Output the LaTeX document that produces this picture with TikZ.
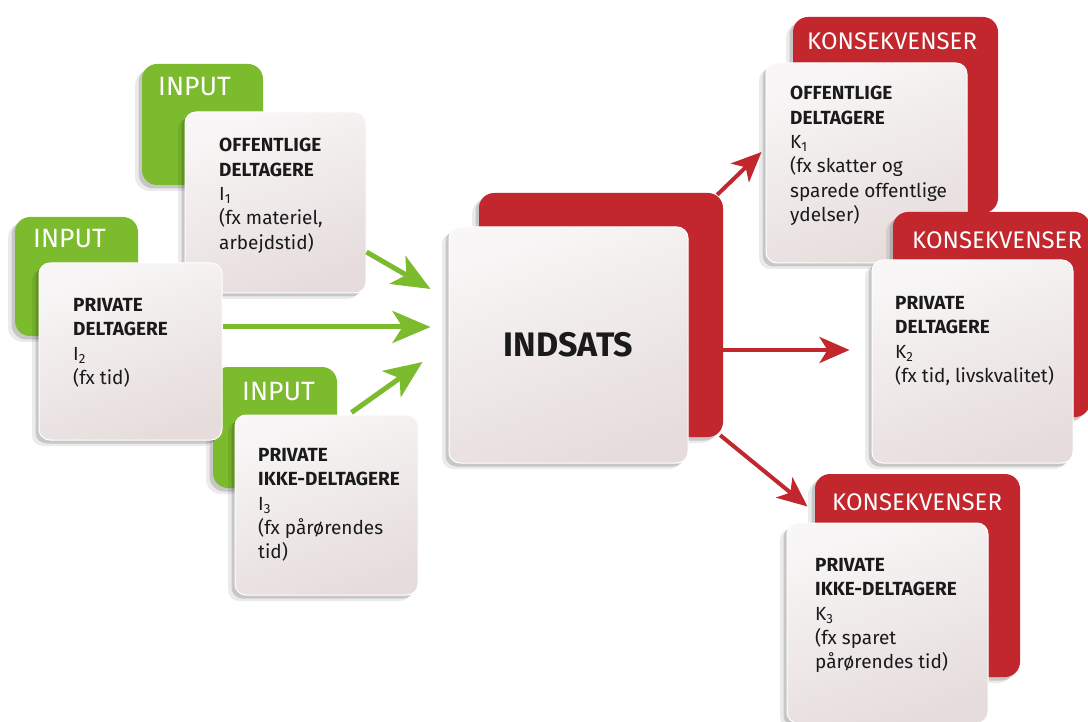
\documentclass[tikz,border=0pt]{standalone}
\usepackage{fontspec}
\setmainfont{Fira Sans}
\usetikzlibrary{arrows.meta,shadows,calc}
\definecolor{ingreen}{HTML}{7CBB2D}
\definecolor{kred}{HTML}{C1272D}
\definecolor{cardA}{HTML}{F8F6F6}
\definecolor{cardB}{HTML}{E6DCDC}
\definecolor{ink}{HTML}{1A1A1A}
\begin{document}
\begin{tikzpicture}[x=1pt,y=-1pt,
  softshadow/.style={
    drop shadow={shadow xshift=-7pt,shadow yshift=-6pt,opacity=.08,fill=black},
    drop shadow={shadow xshift=-3.5pt,shadow yshift=-3.5pt,opacity=.15,fill=black}},
  box/.style={rectangle, rounded corners=15pt, inner sep=0pt},
  greenbox/.style={box, fill=ingreen, softshadow},
  redbox/.style={box, fill=kred, softshadow},
  card/.style={box, rounded corners=11pt, top color=cardA, bottom color=cardB,
    shading angle=20, draw=white, line width=1pt, softshadow},
  inlbl/.style={text=white, font=\fontsize{26.5}{30}\selectfont, inner sep=0pt, anchor=west},
  klbl/.style={text=white, font=\fontsize{24}{28}\selectfont, inner sep=0pt, anchor=west},
  body/.style={text=ink, font=\fontsize{19}{24.4}\selectfont, align=left, anchor=north west, inner sep=0pt},
  garrow/.style={draw=ingreen, line width=5pt, -{Stealth[length=38pt,width=32pt,inset=10pt]}},
  rarrow/.style={draw=kred, line width=4pt, -{Stealth[length=30pt,width=26pt,inset=8pt]}}
]
\useasboundingbox (0,0) rectangle (1088,722);
\fill[white] (0,0) rectangle (1088,722);

% ---- inputs ----
\node[greenbox, minimum width=121pt, minimum height=121pt] (g1) at (202.5,124.5) {};
\node[inlbl] (g1t) at (158,87) {INPUT};
\node[greenbox, minimum width=123pt, minimum height=119pt] (g2) at (76.5,276.5) {};
\node[inlbl] (g2t) at (33,239) {INPUT};
\node[greenbox, minimum width=124pt, minimum height=121pt] (g3) at (275,427.5) {};
\node[inlbl] (g3t) at (242,392) {INPUT};

\node[card, minimum width=181pt, minimum height=181pt] (c1) at (275.5,202.5) {};
\node[body] (c1t) at (219,138) {\textbf{OFFENTLIGE}\\\textbf{DELTAGERE}\\I\textsubscript{1}\\(fx materiel,\\arbejdstid)};
\node[card, minimum width=183pt, minimum height=177pt] (c2) at (130.5,351.5) {};
\node[body] (c2t) at (73,298) {\textbf{PRIVATE}\\\textbf{DELTAGERE}\\I\textsubscript{2}\\(fx tid)};
\node[card, minimum width=183pt, minimum height=180pt] (c3) at (326.5,505) {};
\node[body] (c3t) at (258,448) {\textbf{PRIVATE}\\\textbf{IKKE-DELTAGERE}\\I\textsubscript{3}\\(fx pårørendes\\tid)};

% ---- indsats ----
\node[redbox, minimum width=244pt, minimum height=244pt] (r0) at (601,315) {};
\node[card, minimum width=239pt, minimum height=236pt,
  font=\fontsize{34}{38}\selectfont\bfseries, text=ink] (ind) at (568.5,345) {INDSATS};

% ---- konsekvenser ----
\node[redbox, minimum width=205pt, minimum height=196pt] (k1r) at (895.5,115) {};
\node[klbl] (k1l) at (807,41) {KONSEKVENSER};
\node[card, minimum width=201pt, minimum height=200pt] (k1c) at (866.5,163) {};
\node[body] (k1t) at (790,86) {\textbf{OFFENTLIGE}\\\textbf{DELTAGERE}\\K\textsubscript{1}\\(fx skatter og\\sparede offentlige\\ydelser)};

\node[redbox, minimum width=197pt, minimum height=205pt] (k2r) at (991.5,314.5) {};
\node[klbl] (k2l) at (912,240) {KONSEKVENSER};
\node[card, minimum width=201pt, minimum height=203pt] (k2c) at (972.5,361.5) {};
\node[body] (k2t) at (895,296) {\textbf{PRIVATE}\\\textbf{DELTAGERE}\\K\textsubscript{2}\\(fx tid, livskvalitet)};

\node[redbox, minimum width=205pt, minimum height=203pt] (k3r) at (917.5,575.5) {};
\node[klbl] (k3l) at (832,502) {KONSEKVENSER};
\node[card, minimum width=201pt, minimum height=200pt] (k3c) at (887.5,623) {};
\node[body] (k3t) at (815,558) {\textbf{PRIVATE}\\\textbf{IKKE-DELTAGERE}\\K\textsubscript{3}\\(fx sparet\\pårørendes tid)};

% ---- arrows ----
\draw[garrow] (c1.east |- 0,252) -- ($(ind.west)+(-18,-56)$);
\draw[garrow] (c2.east |- 0,327) -- ($(ind.west)+(-18,-18)$);
\draw[garrow] ($(c3.north west)+(117,-2)$) -- ($(ind.west)+(-26,17)$);

\draw[rarrow] ($(r0.north east)+(-6,2)$) -- ($(k1c.west)+(-4,-11)$);
\draw[rarrow] (r0.east |- 0,350) -- ($(k2c.west |- 0,350)+(-22,0)$);
\draw[rarrow] ($(r0.south east)+(-3,-2)$) -- ($(k3c.north west)+(21,-16)$);
\end{tikzpicture}
\end{document}
